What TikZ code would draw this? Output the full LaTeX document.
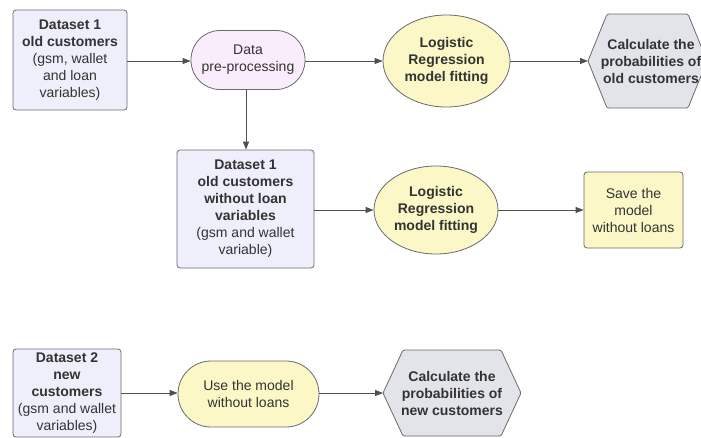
\documentclass[tikz,border=0pt]{standalone}
\usepackage{fontspec}
\setmainfont{Liberation Sans}
\usetikzlibrary{shapes.geometric,arrows.meta}
\definecolor{lav}{HTML}{EEEFFB}
\definecolor{pinkf}{HTML}{FAEDFB}
\definecolor{yel}{HTML}{FBF7C6}
\definecolor{hexg}{HTML}{E2E4E9}
\definecolor{edge}{HTML}{6A6A72}
\definecolor{txt}{HTML}{333333}
\definecolor{conn}{HTML}{505050}
\begin{document}
\begin{tikzpicture}[x=1pt,y=-1pt,
  every node/.style={font=\fontsize{14}{17}\selectfont, text=txt, align=center, inner sep=0pt},
  databox/.style={draw=edge, fill=lav, rounded corners=3pt, line width=0.8pt},
  stadium/.style={draw=edge, line width=0.8pt},
  oval/.style={ellipse, draw=edge, fill=yel, line width=0.8pt},
  hexfill/.style={draw=edge, fill=hexg, line width=0.8pt, rounded corners=1.5pt},
  flow/.style={draw=conn, line width=0.8pt, -{Triangle[length=8pt,width=6pt]}}]
\useasboundingbox (0,0) rectangle (701,437);
\fill[white] (0,0) rectangle (701,437);

% first row
\node[databox, minimum width=114pt, minimum height=100pt] (dsA) at (70,60)
  {\textbf{Dataset 1}\\\textbf{old customers}\\(gsm, wallet\\and loan\\variables)};
\node[stadium, fill=pinkf, rounded corners=29pt, minimum width=114pt, minimum height=59pt] (pre) at (248,60)
  {Data\\pre-processing};
\node[oval, minimum width=127pt, minimum height=92pt] (lr1) at (446.5,61)
  {\textbf{Logistic}\\\textbf{Regression}\\\textbf{model fitting}};
\draw[hexfill] (588,61) -- (607,14) -- (688,14) -- (707,61) -- (688,108) -- (607,108) -- cycle;
\coordinate (hx1) at (588,61);
\node (calc1) at (651,61) {\textbf{Calculate the}\\\textbf{probabilities of}\\\textbf{old customers}};

% second row
\node[databox, minimum width=137pt, minimum height=118pt] (dsB) at (245.5,209)
  {\textbf{Dataset 1}\\\textbf{old customers}\\\textbf{without loan}\\\textbf{variables}\\(gsm and wallet\\variable)};
\node[oval, minimum width=124pt, minimum height=88pt] (lr2) at (436,210)
  {\textbf{Logistic}\\\textbf{Regression}\\\textbf{model fitting}};
\node[draw=edge, fill=yel, rounded corners=3pt, line width=0.8pt, minimum width=99pt, minimum height=76pt] (save) at (633.5,210)
  {Save the\\model\\without loans};

% third row
\node[databox, minimum width=108pt, minimum height=88pt] (dsC) at (67,393)
  {\textbf{Dataset 2}\\\textbf{new}\\\textbf{customers}\\(gsm and wallet\\variables)};
\node[stadium, fill=yel, rounded corners=33pt, minimum width=141pt, minimum height=66pt] (use) at (248.5,394)
  {Use the model\\without loans};
\draw[hexfill] (383,393) -- (403,350) -- (501,350) -- (521,393) -- (501,436) -- (403,436) -- cycle;
\coordinate (hx2) at (383,393);
\node (calc2) at (452,393) {\textbf{Calculate the}\\\textbf{probabilities of}\\\textbf{new customers}};

% connectors
\draw[flow] (dsA.east |- 0,61) -- (pre.west |- 0,61);
\draw[flow] (pre.east |- 0,61) -- (lr1.west);
\draw[flow] (lr1.east) -- (hx1);
\draw[flow] (pre.south -| 246,0) -- (dsB.north -| 246,0);
\draw[flow] (dsB.east |- lr2.west) -- (lr2.west);
\draw[flow] (lr2.east) -- (save.west);
\draw[flow] (dsC.east |- 0,393) -- (use.west |- 0,393);
\draw[flow] (use.east |- 0,393) -- (hx2);
\end{tikzpicture}
\end{document}
